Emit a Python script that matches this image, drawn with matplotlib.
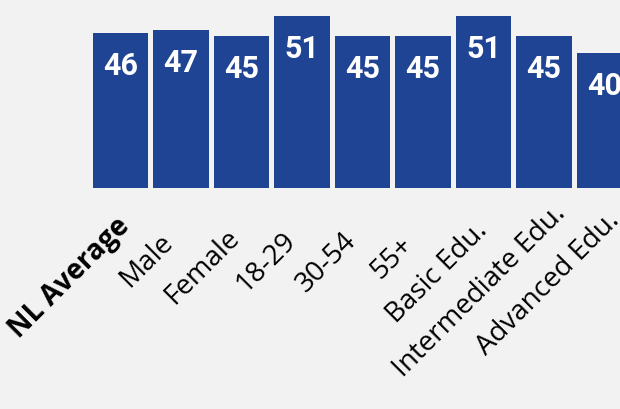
import matplotlib
matplotlib.use("Agg")
import matplotlib.pyplot as plt

# data
categories = ["NL Average", "Male", "Female", "18-29", "30-54", "55+",
              "Basic Edu.", "Intermediate Edu.", "Advanced Edu."]
scores = [46, 47, 45, 51, 45, 45, 51, 45, 40]

BAR = "#1F4493"
BG = "#F2F2F2"

plt.rcParams["font.family"] = ["Open Sans", "DejaVu Sans"]

fig = plt.figure(figsize=(6.2, 4.09), dpi=100, facecolor=BG)
ax = fig.add_axes([0, 1 - 188 / 409, 1, 188 / 409])
ax.set_facecolor(BG)

x = list(range(len(categories)))
ax.bar(x, scores, width=0.91, color=BAR)

ax.set_xlim(-120.5 / 60.5, (620 - 120.5) / 60.5)
ax.set_ylim(0, 188 / 3.37)
ax.axis("off")

# value labels inside the bars
for i, v in zip(x, scores):
    ax.annotate(str(v), xy=(i, v), xytext=(0, -33), textcoords="offset pixels",
                ha="center", va="center", color="white", fontsize=22,
                fontweight="bold", family=["Roboto", "DejaVu Sans"],
                annotation_clip=False)

# rotated category labels; each one pivots at ~75% of its length
renderer = fig.canvas.get_renderer()
c45 = 0.7071
for i, lab in zip(x, categories):
    t = ax.annotate(lab, xy=(i, 0), xytext=(0, 0), textcoords="offset pixels",
                    rotation=0, rotation_mode="anchor", ha="left", va="center",
                    fontsize=20, color="black",
                    fontweight="bold" if i == 0 else "normal",
                    annotation_clip=False)
    w = t.get_window_extent(renderer).width
    shift = 0.75 * w * c45
    t.set_rotation(45)
    t.set_position((-23 - shift, -62 - shift))

fig.savefig("out.png", dpi=100, facecolor=BG)
